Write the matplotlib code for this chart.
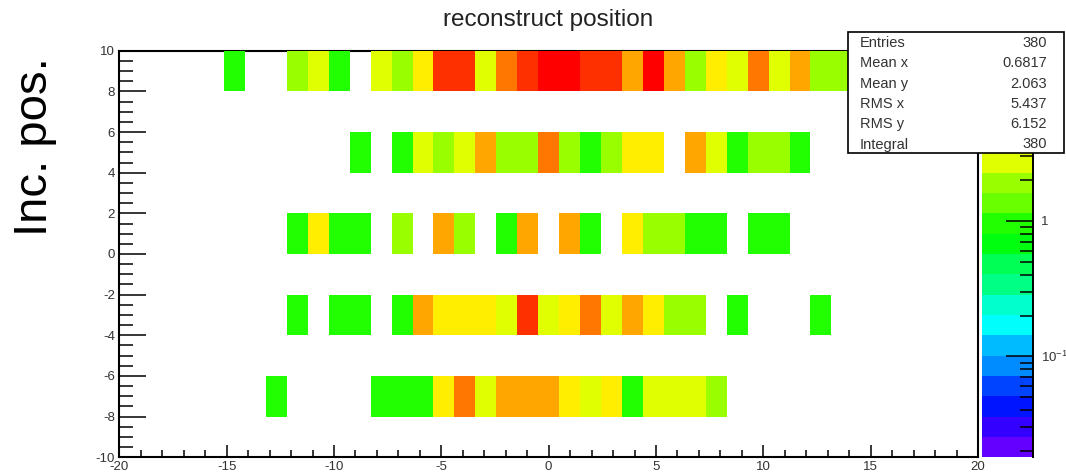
import numpy as np
import matplotlib
matplotlib.use("Agg")
import matplotlib.pyplot as plt
from matplotlib.colors import ListedColormap, LogNorm
from matplotlib.ticker import MultipleLocator, LogLocator, NullFormatter
from matplotlib.lines import Line2D
from matplotlib.patches import Rectangle
import colorsys

plt.rcParams['font.family'] = ['Liberation Sans', 'DejaVu Sans']
plt.rcParams['axes.unicode_minus'] = False
plt.rcParams['mathtext.fontset'] = 'custom'
plt.rcParams['mathtext.rm'] = 'Liberation Sans'
plt.rcParams['mathtext.it'] = 'Liberation Sans'
plt.rcParams['mathtext.bf'] = 'Liberation Sans'

# ---------------- data ----------------
title = "reconstruct position"
y_title = "Inc. pos."
x_range = (-20, 20)
n_xbins = 41
y_range = (-10, 10)
n_ybins = 10

row_y = [9, 5, 1, -3, -7]
# counts per x bin (41 bins from -20 to 20) for each row
counts_y9 = [0, 0, 0, 0, 0, 1, 0, 0, 2, 3, 1, 0, 3, 2, 4, 10, 10, 3, 7, 10, 18,
             14, 10, 10, 5, 13, 5, 2, 4, 3, 7, 3, 5, 2, 2, 2, 1, 0, 0, 0, 0]
counts_y5 = [0, 0, 0, 0, 0, 0, 0, 0, 0, 0, 0, 1, 0, 1, 3, 2, 3, 5, 2, 2, 7,
             2, 1, 2, 4, 4, 0, 5, 3, 1, 2, 2, 1, 0, 0, 0, 0, 0, 0, 0, 0]
counts_y1 = [0, 0, 0, 0, 0, 0, 0, 0, 1, 4, 1, 1, 0, 2, 0, 5, 2, 0, 1, 5, 0,
             5, 1, 0, 4, 2, 2, 1, 1, 0, 1, 1, 0, 0, 0, 0, 0, 0, 0, 0, 0]
counts_ym3 = [0, 0, 0, 0, 0, 0, 0, 0, 1, 0, 1, 1, 0, 1, 5, 4, 4, 4, 3, 12, 3,
              4, 8, 3, 5, 4, 2, 2, 0, 1, 0, 0, 0, 1, 0, 0, 0, 0, 0, 0, 0]
counts_ym7 = [0, 0, 0, 0, 0, 0, 0, 1, 0, 0, 0, 0, 1, 1, 1, 4, 7, 3, 5, 5, 5,
              4, 3, 4, 1, 3, 3, 3, 2, 0, 0, 0, 0, 0, 0, 0, 0, 0, 0, 0, 0]
rows = [counts_y9, counts_y5, counts_y1, counts_ym3, counts_ym7]

stats_labels = ["Entries", "Mean x", "Mean y", "RMS x", "RMS y", "Integral"]
stats_values = ["380", "0.6817", "2.063", "5.437", "6.152", "380"]

# ---------------- histogram ----------------
x_edges = np.linspace(x_range[0], x_range[1], n_xbins + 1)
y_edges = np.linspace(y_range[0], y_range[1], n_ybins + 1)
x_centers = 0.5 * (x_edges[:-1] + x_edges[1:])
xs = np.tile(x_centers, len(row_y))
ys = np.repeat(row_y, n_xbins)
ws = np.concatenate([np.asarray(r, float) for r in rows])
H, _, _ = np.histogram2d(xs, ys, bins=[x_edges, y_edges], weights=ws)
Z = np.ma.masked_less_equal(H.T, 0)

# ROOT "pretty" palette with 20 contour levels
n_levels, n_pal = 20, 50
pal_colors = []
for j in range(n_levels):
    idx = min(int((j + 0.99) * n_pal / n_levels), n_pal - 1)
    hue = 280.0 - (idx + 1) * 280.0 / n_pal
    pal_colors.append(colorsys.hls_to_rgb(hue / 360.0, 0.5, 1.0))
cmap = ListedColormap(pal_colors)
cmap.set_over(pal_colors[-1])
zmax = H.max()
norm = LogNorm(vmin=zmax / 1000.0, vmax=zmax)

# ---------------- figure ----------------
W, Hpx = 1066, 474
fig = plt.figure(figsize=(W / 100, Hpx / 100), dpi=100)
fig.patch.set_facecolor('white')

ax_l, ax_r, ax_t, ax_b = 119.3, 978.0, 50.7, 457.3
ax = fig.add_axes([ax_l / W, 1 - ax_b / Hpx, (ax_r - ax_l) / W, (ax_b - ax_t) / Hpx])
mesh = ax.pcolormesh(x_edges, y_edges, Z, cmap=cmap, norm=norm, zorder=3,
                     antialiased=False, linewidth=0)
ax.set_xlim(*x_range)
ax.set_ylim(*y_range)
for s in ax.spines.values():
    s.set_linewidth(1.5)
    s.set_color('black')

tick_col = '#333333'
ax.xaxis.set_major_locator(MultipleLocator(5))
ax.xaxis.set_minor_locator(MultipleLocator(1))
ax.yaxis.set_major_locator(MultipleLocator(2))
ax.yaxis.set_minor_locator(MultipleLocator(0.5))
ax.tick_params(axis='x', which='major', direction='in', length=8.6, width=1.1,
               top=False, labelsize=9.5, labelcolor=tick_col, pad=2.5)
ax.tick_params(axis='x', which='minor', direction='in', length=5, width=1.1, top=False)
ax.tick_params(axis='y', which='major', direction='in', length=19.5, width=1.1,
               right=False, labelsize=9.5, labelcolor=tick_col, pad=3)
ax.tick_params(axis='y', which='minor', direction='in', length=10, width=1.1, right=False)
ax.xaxis.set_major_formatter(matplotlib.ticker.FuncFormatter(lambda v, p: f"{v:g}"))
ax.yaxis.set_major_formatter(matplotlib.ticker.FuncFormatter(lambda v, p: f"{v:g}"))

# colour bar (palette axis)
cb_l, cb_r = 981.7, 1032.7
cax = fig.add_axes([cb_l / W, 1 - ax_b / Hpx, (cb_r - cb_l) / W, (ax_b - ax_t) / Hpx])
cb = fig.colorbar(mesh, cax=cax)
cb.outline.set_visible(False)
cax.add_line(Line2D([1, 1], [0, 1], transform=cax.transAxes, color='black',
                    lw=1.4, clip_on=False))
cax.yaxis.set_ticks_position('right')
cb.set_ticks([0.1, 1, 10])
# the "10" label sits under the statistics box in the reference, so it is left blank
cb.set_ticklabels([r'$10^{-1}$', '1', ''])
cax.yaxis.set_minor_locator(LogLocator(base=10, subs=np.arange(2, 10)))
cax.yaxis.set_minor_formatter(NullFormatter())
cax.tick_params(which='major', direction='in', length=19.5, width=1.1, pad=6,
                labelsize=9.5, labelcolor=tick_col)
cax.tick_params(which='minor', direction='in', length=9.5, width=1.1)

# title and axis title
fig.text(548 / W, 1 - 20 / Hpx, title, ha='center', va='center',
         fontsize=17.5, color='#222222')
fig.text(35 / W, 1 - 146.5 / Hpx, y_title, rotation=90, ha='center', va='center',
         fontsize=34, color='black')

# statistics box
bx0, bx1, by0, by1 = 848, 1064, 32, 153
fig.add_artist(Rectangle((bx0 / W, 1 - by1 / Hpx), (bx1 - bx0) / W, (by1 - by0) / Hpx,
                         transform=fig.transFigure, facecolor='white',
                         edgecolor='black', lw=1.2, zorder=10))
for i, (lab, val) in enumerate(zip(stats_labels, stats_values)):
    yy = 1 - (43 + 20.3 * i) / Hpx
    fig.text(860 / W, yy, lab, ha='left', va='center', fontsize=10.5,
             color='#333333', zorder=11)
    fig.text(1047 / W, yy, val, ha='right', va='center', fontsize=10.5,
             color='#333333', zorder=11)

fig.savefig('out.png', dpi=100)
